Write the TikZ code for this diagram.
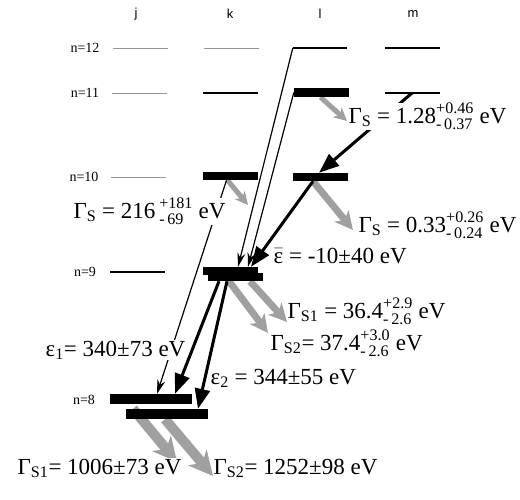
\documentclass[tikz,border=0pt]{standalone}
\usepackage{amsmath}
\usepackage{fontspec}
\setmainfont{Liberation Serif}
\newfontfamily\valfont{Liberation Serif}
\newfontfamily\colfont{Liberation Sans}
\usetikzlibrary{arrows.meta, calc, backgrounds}
\definecolor{lvlGray}{RGB}{150,150,150}
\definecolor{decayGray}{RGB}{160,160,160}

% stacked upper/lower errors
\newcommand{\errs}[2]{$^{\text{#1}}_{\text{#2}}$}

\begin{document}
\begin{tikzpicture}[
    x=1pt, y=-1pt,
    lvlthin/.style={fill=lvlGray, rectangle, inner sep=0pt, minimum width=55pt, minimum height=1pt},
    lvldark/.style={fill=black, rectangle, inner sep=0pt, minimum width=55pt, minimum height=1.1pt},
    popbar/.style={fill=black, rectangle, inner sep=0pt, minimum width=55pt, minimum height=8pt},
    nlabel/.style={font=\valfont\fontsize{14}{16}\selectfont, inner sep=0pt},
    collabel/.style={font=\colfont\fontsize{13}{15}\selectfont, inner sep=0pt},
    vallabel/.style={font=\valfont\fontsize{23}{25}\selectfont, fill=white, inner sep=0.5pt, anchor=base west},
    thinarrow/.style={-{Stealth[length=14pt, width=8pt]}, line width=1.2pt},
    thickarrow/.style={-{Triangle[length=20pt, width=15pt]}, line width=3pt},
    decaysmall/.style={-{Stealth[length=13pt, width=13pt, inset=4pt]}, line width=5pt, draw=decayGray},
    decaymid/.style={-{Stealth[length=18pt, width=18pt, inset=5pt]}, line width=7pt, draw=decayGray},
    decaybig/.style={-{Stealth[length=24pt, width=24pt, inset=7pt]}, line width=10pt, draw=decayGray}
]
\useasboundingbox (0,0) rectangle (520,499);

% Column labels
\node (col_j) [collabel] at (136,14) {j};
\node (col_k) [collabel] at (230,14) {k};
\node (col_l) [collabel] at (320,14) {l};
\node (col_m) [collabel] at (413,14) {m};

% Level labels
\node (lab12) [nlabel] at (85,48) {n=12};
\node (lab11) [nlabel] at (85,93) {n=11};
\node (lab10) [nlabel] at (84,177) {n=10};
\node (lab9) [nlabel] at (85,272) {n=9};
\node (lab8) [nlabel] at (84,400) {n=8};

% Empty levels
\node (j12) [lvlthin] at (140,48) {};
\node (k12) [lvlthin] at (231,48) {};
\node (l12) [lvldark, minimum width=54pt] at (320,48) {};
\node (m12) [lvldark] at (412,48) {};
\node (j11) [lvlthin] at (139.5,93) {};
\node (k11) [lvldark, minimum height=1.6pt] at (230,93) {};
\node (m11) [lvldark] at (412,93) {};
\node (j10) [lvlthin] at (138.5,177) {};
\node (j9) [lvldark, minimum height=2pt] at (137.5,272) {};

% Populated levels
\node (l11) [popbar, minimum height=9pt] at (321.5,92.5) {};
\node (k10) [popbar] at (230.5,176) {};
\node (l10) [popbar] at (320,177) {};
\node (k9a) [popbar] at (230,271) {};
\node (k9b) [popbar] at (235,277) {};
\node (j8a) [popbar, minimum width=82pt, minimum height=10pt] at (151,399) {};
\node (j8b) [popbar, minimum width=82pt, minimum height=10pt] at (167,414) {};

% Ends of the decay arrows
\coordinate (g_l11) at (347,121);
\coordinate (g_k10) at (248,205);
\coordinate (g_l10) at (353,230);
\coordinate (g_k9a) at (287,322);
\coordinate (g_k9b) at (268,333);
\coordinate (g_j8a) at (177,462);
\coordinate (g_j8b) at (213,476);

% Decays
\begin{scope}[on background layer]
\draw [decaysmall] ([xshift=-1pt]l11.south) -- (g_l11);
\draw [decaysmall] ([xshift=-3pt]k10.south) -- (g_k10);
\draw [decaymid] ([xshift=-7pt]l10.south) -- (g_l10);
\draw [decaymid] ([xshift=15pt]k9b.south) -- (g_k9a);
\draw [decaymid] ([xshift=-6pt]k9b.south) -- (g_k9b);
\draw [decaybig] ([xshift=-34pt]j8b.north) -- (g_j8a);
\draw [decaybig] ([xshift=-2pt]j8b.south) -- (g_j8b);
\end{scope}

% Transitions
\draw [thinarrow] (l12.west) -- ([xshift=8pt]k9a.north);
\draw [thinarrow] (l11.west) -- ([xshift=18pt]k9a.north);
\draw [thinarrow] ([xshift=-4pt]k10.south) -- ([xshift=6pt]j8a.north);
\draw [thickarrow] (m11.center) -- ([xshift=-1pt]l10.north);
\draw [thickarrow] ([xshift=-7pt]l10.south) -- ([xshift=21pt]k9a.north);
\draw [thickarrow] ([xshift=-16pt]k9b.south) -- ([xshift=24pt]j8a.north);
\draw [thickarrow] ([xshift=-8pt]k9b.south) -- ([xshift=31pt]j8b.north);

% Values
\node (val_l11) [vallabel] at (348,123) {Γ\textsubscript{S} = 1.28\errs{+0.46}{-\,0.37} eV};
\node (val_k10) [vallabel] at (73,218) {Γ\textsubscript{S} = 216\,\errs{+181}{-\,69} eV};
\node (val_l10) [vallabel] at (358,232) {Γ\textsubscript{S} = 0.33\errs{+0.26}{-\,0.24} eV};
\node (val_eps) [vallabel] at (273,263) {$\bar{\text{ε}}$ = -10±40 eV};
\node (val_k9a) [vallabel] at (287,318) {Γ\textsubscript{S1} = 36.4\errs{+2.9}{-\,2.6} eV};
\node (val_k9b) [vallabel] at (270,350) {Γ\textsubscript{S2}= 37.4\errs{+3.0}{-\,2.6} eV};
\node (val_eps1) [vallabel] at (45,356) {ε\textsubscript{1}= 340±73 eV};
\node (val_eps2) [vallabel] at (210,384) {ε\textsubscript{2} = 344±55 eV};
\node (val_j8a) [vallabel] at (17,474) {Γ\textsubscript{S1}= 1006±73 eV};
\node (val_j8b) [vallabel] at (213,474) {Γ\textsubscript{S2}= 1252±98 eV};

\end{tikzpicture}
\end{document}
